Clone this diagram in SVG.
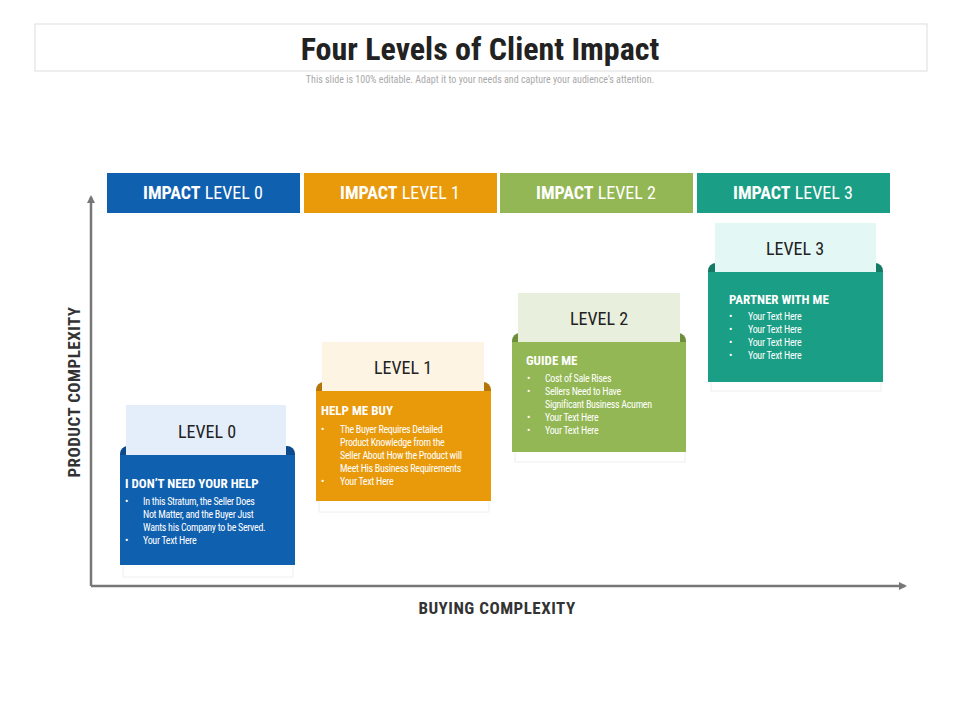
<svg xmlns="http://www.w3.org/2000/svg" width="960" height="720" viewBox="0 0 960 720">
<style>
text{font-family:"Roboto Condensed","Liberation Sans Narrow","Roboto","Liberation Sans",sans-serif}
.hd{font-size:18px;fill:#fff;text-anchor:middle}
.tab{font-size:18px;fill:#222;text-anchor:middle}
.ti{font-size:13px;font-weight:bold;fill:#fff}
.b{font-size:10px;fill:#fff;letter-spacing:-0.3px}
.ax{font-size:17px;font-weight:bold;fill:#333;text-anchor:middle;letter-spacing:0.5px}
</style>
<defs>
<marker id="ar" markerWidth="8" markerHeight="8" refX="6" refY="4" orient="auto" markerUnits="userSpaceOnUse"><path d="M0,0 L8,4 L0,8 z" fill="#777"/></marker>
</defs>
<rect x="0" y="0" width="960" height="720" fill="#fff"/>
<rect x="35" y="24" width="892" height="47" fill="#fff" stroke="#ddd"/>
<text x="480" y="60" text-anchor="middle" style="font-size:32px;font-weight:bold;fill:#222">Four Levels of Client Impact</text>
<text x="480" y="83" text-anchor="middle" style="font-size:10px;fill:#aaa">This slide is 100% editable. Adapt it to your needs and capture your audience's attention.</text>
<g id="connectors" stroke="#777" stroke-width="2.5" fill="none">
<path d="M91,586 V197" marker-end="url(#ar)"/>
<path d="M91,586 H905" marker-end="url(#ar)"/>
</g>
<text class="ax" x="80" y="392" transform="rotate(-90 80 392)">PRODUCT COMPLEXITY</text>
<text class="ax" x="497" y="614">BUYING COMPLEXITY</text>
<g id="h0"><rect x="107" y="173" width="193" height="40" fill="#1060b0"/><text class="hd" x="203" y="199"><tspan font-weight="bold">IMPACT</tspan> LEVEL 0</text></g>
<g id="h1"><rect x="304" y="173" width="193" height="40" fill="#e99a0b"/><text class="hd" x="400" y="199"><tspan font-weight="bold">IMPACT</tspan> LEVEL 1</text></g>
<g id="h2"><rect x="500" y="173" width="193" height="40" fill="#93b754"/><text class="hd" x="596" y="199"><tspan font-weight="bold">IMPACT</tspan> LEVEL 2</text></g>
<g id="h3"><rect x="697" y="173" width="193" height="40" fill="#1a9e85"/><text class="hd" x="793" y="199"><tspan font-weight="bold">IMPACT</tspan> LEVEL 3</text></g>

<g id="c0">
<rect x="123" y="560" width="170" height="17" fill="#fff" stroke="#eee"/>
<rect x="120" y="446" width="175" height="30" rx="8" fill="#0b4a8c"/>
<rect x="120" y="455" width="175" height="110" fill="#1060b0"/>
<rect x="126" y="405" width="160" height="50" fill="#e4eefa"/>
<text class="tab" x="207" y="438">LEVEL 0</text>
<text class="ti" x="125" y="488">I DON’T NEED YOUR HELP</text>
<text class="b"><tspan x="125" y="505">•</tspan><tspan x="143" y="505">In this Stratum, the Seller Does</tspan><tspan x="143" y="518">Not Matter, and the Buyer Just</tspan><tspan x="143" y="531">Wants his Company to be Served.</tspan><tspan x="125" y="544">•</tspan><tspan x="143" y="544">Your Text Here</tspan></text>
</g>
<g id="c1">
<rect x="319" y="496" width="170" height="16" fill="#fff" stroke="#eee"/>
<rect x="316" y="382" width="175" height="30" rx="8" fill="#b57608"/>
<rect x="316" y="391" width="175" height="110" fill="#e99a0b"/>
<rect x="322" y="342" width="162" height="49" fill="#fdf4e3"/>
<text class="tab" x="403" y="374">LEVEL 1</text>
<text class="ti" x="321" y="415">HELP ME BUY</text>
<text class="b"><tspan x="321" y="433">•</tspan><tspan x="340" y="433">The Buyer Requires Detailed</tspan><tspan x="340" y="446">Product Knowledge from the</tspan><tspan x="340" y="459">Seller About How the Product will</tspan><tspan x="340" y="472">Meet His Business Requirements</tspan><tspan x="321" y="485">•</tspan><tspan x="340" y="485">Your Text Here</tspan></text>
</g>
<g id="c2">
<rect x="515" y="447" width="170" height="15" fill="#fff" stroke="#eee"/>
<rect x="512" y="333" width="174" height="30" rx="8" fill="#6f8e3b"/>
<rect x="512" y="342" width="174" height="110" fill="#93b754"/>
<rect x="518" y="293" width="162" height="49" fill="#e9efdd"/>
<text class="tab" x="599" y="325">LEVEL 2</text>
<text class="ti" x="526" y="365">GUIDE ME</text>
<text class="b"><tspan x="527" y="382">•</tspan><tspan x="545" y="382">Cost of Sale Rises</tspan><tspan x="527" y="395">•</tspan><tspan x="545" y="395">Sellers Need to Have</tspan><tspan x="545" y="408">Significant Business Acumen</tspan><tspan x="527" y="421">•</tspan><tspan x="545" y="421">Your Text Here</tspan><tspan x="527" y="434">•</tspan><tspan x="545" y="434">Your Text Here</tspan></text>
</g>
<g id="c3">
<rect x="711" y="377" width="170" height="14" fill="#fff" stroke="#eee"/>
<rect x="708" y="263" width="175" height="30" rx="8" fill="#137a66"/>
<rect x="708" y="272" width="175" height="110" fill="#1a9e85"/>
<rect x="715" y="223" width="161" height="49" fill="#e3f8f5"/>
<text class="tab" x="795" y="255">LEVEL 3</text>
<text class="ti" x="729" y="304">PARTNER WITH ME</text>
<text class="b"><tspan x="729" y="320">•</tspan><tspan x="748" y="320">Your Text Here</tspan><tspan x="729" y="333">•</tspan><tspan x="748" y="333">Your Text Here</tspan><tspan x="729" y="346">•</tspan><tspan x="748" y="346">Your Text Here</tspan><tspan x="729" y="359">•</tspan><tspan x="748" y="359">Your Text Here</tspan></text>
</g>
</svg>
